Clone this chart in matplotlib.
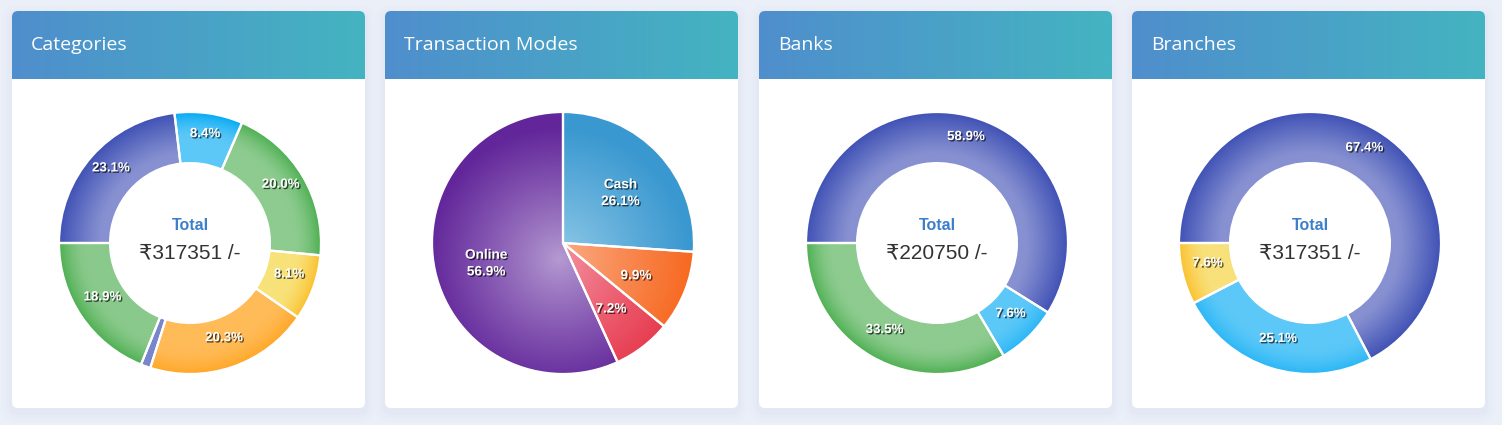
import numpy as np
import matplotlib
matplotlib.use("Agg")
import matplotlib.pyplot as plt
import matplotlib.patches as mpatches
import matplotlib.patheffects as pe
from matplotlib.colors import to_rgb

W, H = 1502, 425

titles = ["Categories", "Transaction Modes", "Banks", "Branches"]

# Categories donut (clockwise from 9 o'clock)
cat_values = [23.1, 8.4, 20.0, 8.1, 20.3, 1.2, 18.9]
cat_light = ["#8791d1", "#5cc8f8", "#8dcb8f", "#f8e27a", "#ffbb58", "#7986cb", "#89c98b"]
cat_dark = ["#3f51b5", "#03a9f4", "#4caf50", "#fbc02d", "#ffa726", "#7986cb", "#4caf50"]
cat_total = "₹317351 /-"

# Transaction modes pie (clockwise from 12 o'clock)
mode_values = [26.1, 9.9, 7.2, 56.9]
mode_names = ["Cash", None, None, "Online"]
mode_light = ["#93cbe8", "#fbae8a", "#f4909f", "#b59bd2"]
mode_dark = ["#3a98d0", "#f76a22", "#e6394c", "#62269a"]

# Banks donut
bank_values = [58.9, 7.6, 33.5]
bank_light = ["#8791d1", "#5cc8f8", "#8dcb8f"]
bank_dark = ["#3f51b5", "#29b6f6", "#4caf50"]
bank_total = "₹220750 /-"

# Branches donut
branch_values = [67.4, 25.1, 7.6]
branch_light = ["#8791d1", "#5cc8f8", "#f8e07a"]
branch_dark = ["#3f51b5", "#29b6f6", "#fbc02d"]
branch_total = "₹317351 /-"

card_x = [12, 385, 759, 1132]
card_w, card_top, card_bot, head_bot = 353, 11, 408, 79
R_PX = 131.0
CY = 243

fig = plt.figure(figsize=(W / 100, H / 100), dpi=100)
fig.patch.set_facecolor("#ebeff8")

ax_bg = fig.add_axes([0, 0, 1, 1])
ax_bg.set_axis_off()

head_l = np.array(to_rgb("#4f8ecd"))
head_r = np.array(to_rgb("#44b4c1"))
tt = np.linspace(0, 1, 256)
head_img = (head_l[None, :] * (1 - tt[:, None]) + head_r[None, :] * tt[:, None])[None, :, :]

for i, x0 in enumerate(card_x):
    for k, a in [(10, 0.025), (6, 0.035), (3, 0.045)]:
        ax_bg.add_patch(mpatches.FancyBboxPatch(
            (x0 - k, card_top - k + 4), card_w + 2 * k, card_bot - card_top + 2 * k,
            boxstyle=f"round,pad=0,rounding_size={6 + k}", fc="#a9b6dc", ec="none", alpha=a, zorder=1))
    card = mpatches.FancyBboxPatch((x0, card_top), card_w, card_bot - card_top,
                                   boxstyle="round,pad=0,rounding_size=6", fc="white", ec="none", zorder=2)
    ax_bg.add_patch(card)
    im = ax_bg.imshow(head_img, extent=(x0, x0 + card_w, head_bot, card_top), aspect="auto",
                      zorder=3, interpolation="bilinear")
    im.set_clip_path(card)
    ax_bg.text(x0 + 19, 45, titles[i], color="white", fontsize=14, family="Open Sans",
               va="center", ha="left", zorder=4)

ax_bg.set_xlim(0, W)
ax_bg.set_ylim(H, 0)

S = 300
LIM = S / 2 / R_PX
shadow = [pe.withSimplePatchShadow(offset=(1.0, -1.0), shadow_rgbFace="black", alpha=0.65)]


def chart_axes(cx):
    ax = fig.add_axes([(cx - S / 2) / W, (H - CY - S / 2) / H, S / W, S / H])
    return ax


def gradient(ax, wedge, c_in, c_out, kind):
    n = 400
    lim = 1.02
    xs = np.linspace(-lim, lim, n)
    X, Y = np.meshgrid(xs, xs)
    R = np.hypot(X, Y)
    if kind == "indigo":
        t = np.clip((R - 0.68) / 0.32, 0, 1) ** 1.1
    elif kind == "donut":
        t = np.clip((R - 0.80) / 0.20, 0, 1) ** 1.6
    else:
        R = np.hypot(X + 0.03, Y + 0.12)
        t = np.clip(R, 0, 1) ** 0.9
    ci = np.array(to_rgb(c_in))
    co = np.array(to_rgb(c_out))
    img = ci[None, None, :] * (1 - t[..., None]) + co[None, None, :] * t[..., None]
    im = ax.imshow(img, extent=(-lim, lim, -lim, lim), origin="lower", zorder=1.5,
                   interpolation="bilinear")
    im.set_clip_path(wedge)


def donut(cx, values, light, dark, total):
    ax = chart_axes(cx)
    wedges, _ = ax.pie(values, colors=light, startangle=180, counterclock=False, radius=1,
                       wedgeprops=dict(width=0.39, edgecolor="white", linewidth=1.6))
    for w, cl, cd, v in zip(wedges, light, dark, values):
        gradient(ax, w, cl, cd, "indigo" if cd == "#3f51b5" else "donut")
        w.set_facecolor("none")
        w.set_zorder(2)
        if v >= 2:
            mid = np.deg2rad((w.theta1 + w.theta2) / 2)
            r = 0.805
            ax.text(r * np.cos(mid), r * np.sin(mid) + 0.035, f"{v:.1f}%", color="white",
                    fontsize=9.6, fontweight="bold", family="Liberation Sans",
                    ha="center", va="center", path_effects=shadow, zorder=3)
    ax.text(0, 0.137, "Total", color="#3d7fcb", fontsize=11.5, fontweight="bold",
            family="Liberation Sans", ha="center", va="center", zorder=3)
    ax.text(0, -0.076, total, color="#333333", fontsize=15,
            family=["Liberation Sans", "DejaVu Sans"], ha="center", va="center", zorder=3)
    ax.set_xlim(-LIM, LIM)
    ax.set_ylim(-LIM, LIM)
    ax.set_axis_off()


def pie(cx, values, names, light, dark):
    ax = chart_axes(cx)
    wedges, _ = ax.pie(values, colors=light, startangle=90, counterclock=False, radius=1,
                       wedgeprops=dict(edgecolor="white", linewidth=1.6))
    for w, cl, cd, v, nm in zip(wedges, light, dark, values, names):
        gradient(ax, w, cl, cd, "pie")
        w.set_facecolor("none")
        w.set_zorder(2)
        mid = np.deg2rad((w.theta1 + w.theta2) / 2)
        r = 0.6
        lab = f"{v:.1f}%" if nm is None else f"{nm}\n{v:.1f}%"
        ax.text(r * np.cos(mid), r * np.sin(mid) - 0.025, lab, color="white",
                fontsize=9.8, fontweight="bold", family="Liberation Sans", linespacing=1.25,
                ha="center", va="center", path_effects=shadow, zorder=3)
    ax.set_xlim(-LIM, LIM)
    ax.set_ylim(-LIM, LIM)
    ax.set_axis_off()


donut(card_x[0] + 178, cat_values, cat_light, cat_dark, cat_total)
pie(card_x[1] + 178, mode_values, mode_names, mode_light, mode_dark)
donut(card_x[2] + 178, bank_values, bank_light, bank_dark, bank_total)
donut(card_x[3] + 178, branch_values, branch_light, branch_dark, branch_total)

fig.savefig("out.png", dpi=100, facecolor=fig.get_facecolor())
